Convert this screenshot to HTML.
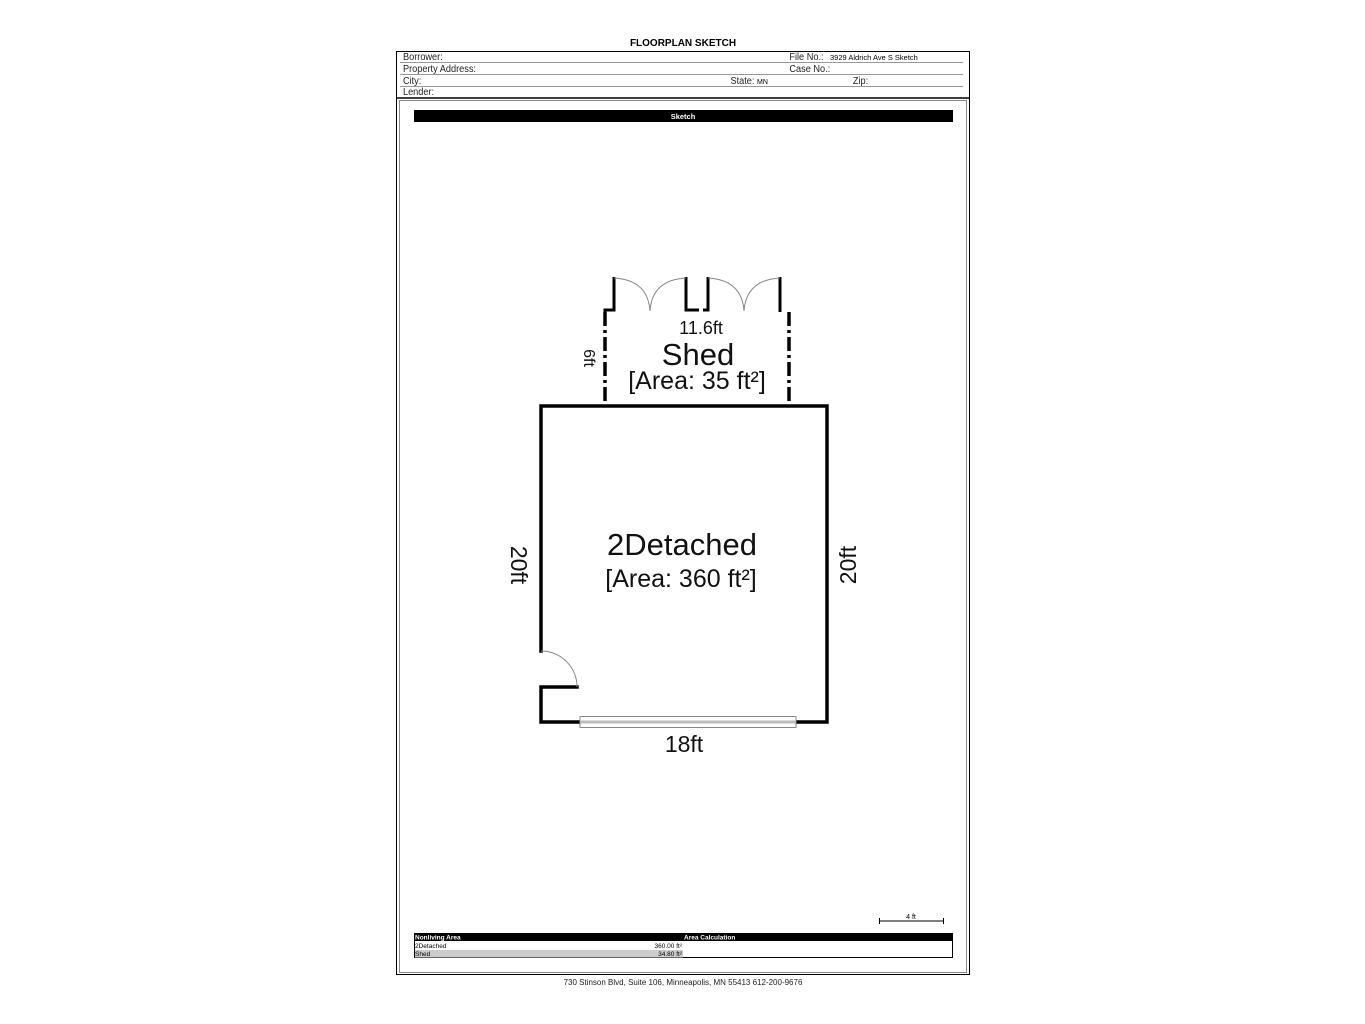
<!DOCTYPE html>
<html><head><meta charset="utf-8"><style>
html,body{margin:0;padding:0;background:#fff;}
svg{display:block;}
text{font-family:"Liberation Sans",Arial,sans-serif;}
</style></head><body>
<svg width="1365" height="1024" viewBox="0 0 1365 1024" xmlns="http://www.w3.org/2000/svg">
<text x="683" y="46" font-size="10" font-weight="bold" text-anchor="middle">FLOORPLAN SKETCH</text>
<rect x="396.5" y="51.5" width="573" height="923" fill="none" stroke="#000" stroke-width="1"/>
<line x1="396" y1="98" x2="970" y2="98" stroke="#000" stroke-width="1.5"/>
<rect x="399.5" y="100.5" width="567" height="872" fill="none" stroke="#888" stroke-width="1"/>
<g stroke="#999" stroke-width="1">
<line x1="400" y1="62.5" x2="963" y2="62.5"/>
<line x1="400" y1="74.5" x2="963" y2="74.5"/>
<line x1="400" y1="86.5" x2="963" y2="86.5"/>
</g>
<g font-size="10" fill="#222" transform="scale(0.92,1)">
<text x="438" y="60">Borrower:</text>
<text x="438" y="72">Property Address:</text>
<text x="438" y="84">City:</text>
<text x="438" y="95">Lender:</text>
<text x="858" y="60">File No.:</text>
<text x="858" y="72">Case No.:</text>
<text x="794" y="84">State:</text>
<text x="927" y="84">Zip:</text>
</g>
<text x="830" y="60" font-size="7.5">3929 Aldrich Ave S Sketch</text>
<text x="757" y="84" font-size="7">MN</text>
<rect x="414" y="110" width="539" height="12" fill="#000"/>
<text x="683" y="119" font-size="7.5" font-weight="bold" fill="#fff" text-anchor="middle">Sketch</text>

<g fill="none" stroke="#000" stroke-width="3.5" stroke-linecap="square">
<polyline points="541,651 541,406 827,406 827,722 796,722"/>
<polyline points="580,722 541,722 541,687 577,687"/>
</g>
<path d="M541,651 A36,36 0 0 1 577,687" fill="none" stroke="#888" stroke-width="1"/>
<rect x="580" y="716.5" width="216" height="11" fill="#fff" stroke="#888" stroke-width="1"/>
<line x1="580" y1="722" x2="796" y2="722" stroke="#bbb" stroke-width="3"/>

<g fill="none" stroke="#000" stroke-width="3.5" stroke-dasharray="14,4,3,4">
<line x1="605" y1="312" x2="605" y2="406"/>
<line x1="789" y1="312" x2="789" y2="406"/>
</g>
<g fill="none" stroke="#000" stroke-width="3">
<polyline points="605,312 605,310 614,310 614,277"/>
<polyline points="686,277 686,310 699,310"/>
<polyline points="703,310 708,310 708,277"/>
<line x1="780" y1="277" x2="780" y2="312"/>
</g>
<g fill="none" stroke="#888" stroke-width="1">
<path d="M614,278 Q648,280 650,311 Q652,280 686,278"/>
<path d="M708,278 Q742,280 744,311 Q746,280 780,278"/>
</g>

<g fill="#111" text-anchor="middle">
<text x="701" y="334" font-size="18">11.6ft</text>
<text x="698" y="365" font-size="31">Shed</text>
<text x="697" y="389" font-size="25">[Area: 35 ft²]</text>
<text transform="translate(584,358) rotate(90)" font-size="16">6ft</text>
<text x="682" y="555" font-size="31">2Detached</text>
<text x="681" y="587" font-size="25">[Area: 360 ft²]</text>
<text transform="translate(511,565) rotate(90)" font-size="23">20ft</text>
<text transform="translate(856,565) rotate(-90)" font-size="23">20ft</text>
<text x="684" y="752" font-size="23">18ft</text>
</g>

<line x1="879" y1="921" x2="944" y2="921" stroke="#000" stroke-width="1"/>
<line x1="879.5" y1="918" x2="879.5" y2="924" stroke="#000"/>
<line x1="943.5" y1="918" x2="943.5" y2="924" stroke="#000"/>
<text x="911" y="919" font-size="7" text-anchor="middle">4 ft</text>

<rect x="414.5" y="933.5" width="538" height="24" fill="none" stroke="#000" stroke-width="1"/>
<rect x="414" y="933" width="539" height="8" fill="#000"/>
<rect x="415" y="950" width="268" height="7.5" fill="#ccc"/>
<text x="415" y="939.5" font-size="6.5" font-weight="bold" fill="#fff">Nonliving Area</text>
<text x="684" y="939.5" font-size="6.5" font-weight="bold" fill="#fff">Area Calculation</text>
<text x="415" y="948" font-size="6.5">2Detached</text>
<text x="415" y="956" font-size="6.5">Shed</text>
<text x="682" y="948" font-size="6.5" text-anchor="end">360.00 ft²</text>
<text x="682" y="956" font-size="6.5" text-anchor="end">34.80 ft²</text>

<text x="683" y="985" font-size="8" text-anchor="middle" fill="#222">730 Stinson Blvd, Suite 106, Minneapolis, MN 55413   612-200-9676</text>
</svg>
</body></html>
